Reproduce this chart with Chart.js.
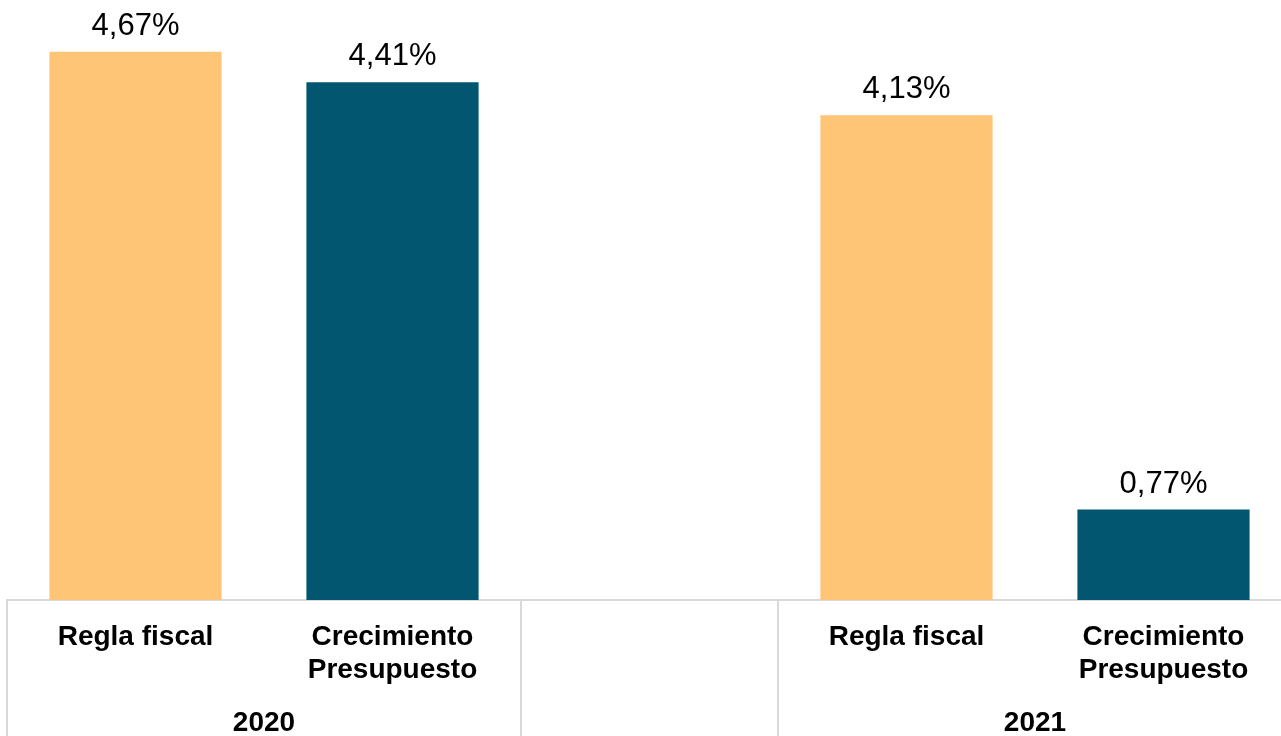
<!DOCTYPE html>
<html>
<head>
<meta charset="utf-8">
<script src="https://cdn.jsdelivr.net/npm/chart.js@4"></script>
<style>
  html, body { margin: 0; padding: 0; background: #fff; overflow: hidden; }
  #wrap { position: absolute; left: 0; top: 0; width: 1292px; height: 736px; }
</style>
</head>
<body>
<div id="wrap"><canvas id="myChart"></canvas></div>
<script>
// Categories (one empty slot between the two years)
const categories = [["Regla fiscal"], ["Crecimiento", "Presupuesto"], "", ["Regla fiscal"], ["Crecimiento", "Presupuesto"]];
const values = [4.67, 4.41, null, 4.13, 0.77];

// Year groups below the categories
const groupLabels = ["2020", "", "2021"];
const groupSizes = [2, 1, 2];

const orange = "#FFC576";
const teal = "#02566F";
const barColors = [orange, teal, teal, orange, teal];

const fontFamily = "'Liberation Sans', Arial, sans-serif";
const lineColor = "#d9d9d9";

// value labels on top of bars, "4,67%" style
const valueLabels = {
  id: "valueLabels",
  afterDatasetsDraw(chart) {
    const ctx = chart.ctx;
    const meta = chart.getDatasetMeta(0);
    ctx.save();
    ctx.font = "31px " + fontFamily;
    ctx.fillStyle = "#000";
    ctx.textAlign = "center";
    ctx.textBaseline = "alphabetic";
    meta.data.forEach(function (bar, i) {
      if (values[i] === null) return;
      let text = values[i].toFixed(2).replace(".", ",") + "%";
      ctx.fillText(text, bar.x, bar.y - 17);
    });
    ctx.restore();
  }
};

// group separators and year labels under the x axis
const groupAxis = {
  id: "groupAxis",
  afterDraw(chart) {
    const ctx = chart.ctx;
    const x = chart.scales.x;
    const half = (x.getPixelForValue(1) - x.getPixelForValue(0)) / 2;
    const top = x.top;
    const bottom = chart.height;

    ctx.save();
    ctx.strokeStyle = lineColor;
    ctx.lineWidth = 2;
    ctx.font = "bold 28px " + fontFamily;
    ctx.fillStyle = "#000";
    ctx.textAlign = "center";
    ctx.textBaseline = "middle";

    let start = 0;
    groupSizes.forEach(function (size, g) {
      let left = x.getPixelForValue(start) - half;
      let right = x.getPixelForValue(start + size - 1) + half;
      [left, right].forEach(function (px) {
        ctx.beginPath();
        ctx.moveTo(Math.round(px), top);
        ctx.lineTo(Math.round(px), bottom);
        ctx.stroke();
      });
      if (groupLabels[g]) {
        ctx.fillText(groupLabels[g], (left + right) / 2, 723);
      }
      start += size;
    });
    ctx.restore();
  }
};

new Chart("myChart", {
  type: "bar",
  data: {
    labels: categories,
    datasets: [{
      data: values,
      backgroundColor: barColors,
      borderWidth: 0,
      barPercentage: 0.67,
      categoryPercentage: 1
    }]
  },
  options: {
    responsive: true,
    maintainAspectRatio: false,
    animation: false,
    layout: { padding: { left: 7, right: 0, top: 13, bottom: 0 } },
    plugins: {
      legend: { display: false },
      tooltip: { enabled: false }
    },
    scales: {
      x: {
        grid: { display: false },
        border: { display: true, color: lineColor, width: 2 },
        ticks: {
          color: "#000",
          padding: 13,
          maxRotation: 0,
          autoSkip: false,
          font: { family: fontFamily, size: 28, weight: "bold", lineHeight: 1.18 }
        },
        afterFit: function (scale) { scale.height = 136; }
      },
      y: {
        display: false,
        min: 0,
        max: 5
      }
    }
  },
  plugins: [valueLabels, groupAxis]
});
</script>
</body>
</html>
